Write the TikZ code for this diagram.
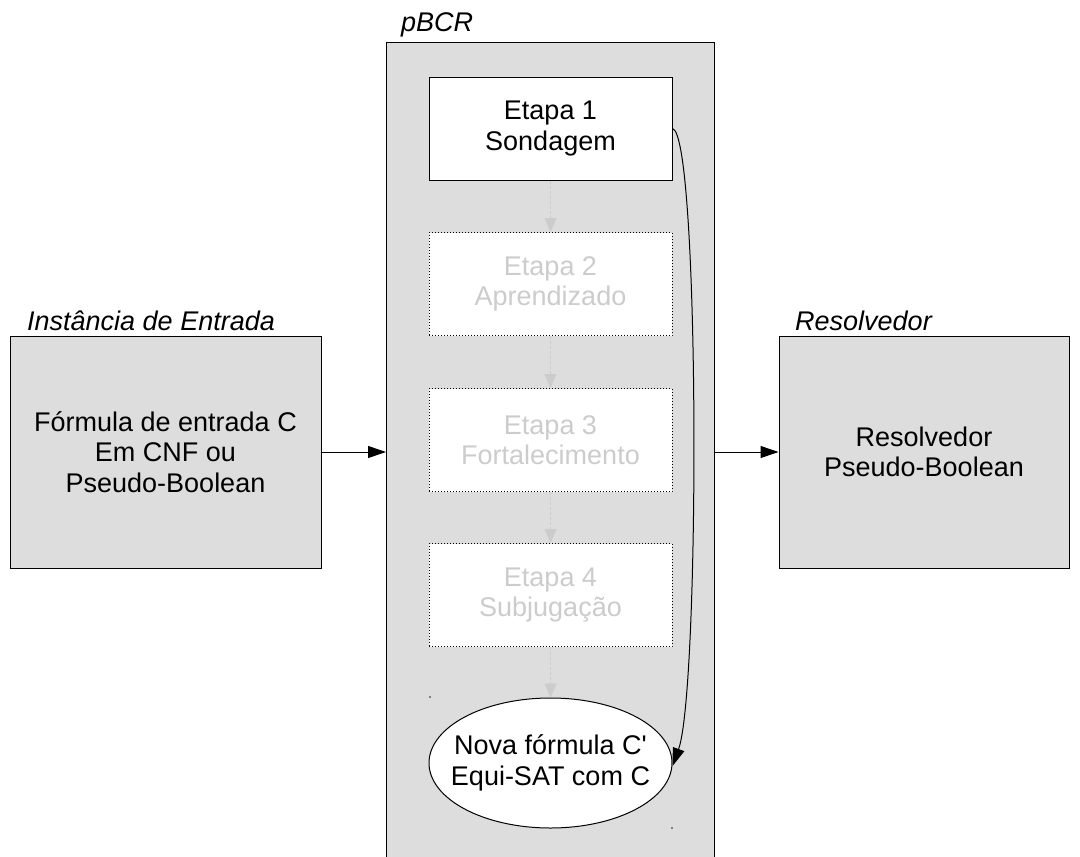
\documentclass[tikz,border=0pt]{standalone}
\usepackage{fontspec}
\setmainfont{Liberation Sans}
% same face without TeX quote ligatures, for a straight apostrophe
\newfontfamily\rawsans{Liberation Sans}
\usetikzlibrary{arrows.meta,shapes.geometric}
\definecolor{panel}{HTML}{DDDDDD}
\definecolor{faded}{HTML}{CCCCCC}
\tikzset{
  txt/.style={font=\fontsize{27}{30.5}\selectfont, align=center, inner sep=0pt},
  label/.style={font=\fontsize{27}{30.5}\selectfont\itshape, anchor=west, inner sep=0pt},
  graybox/.style={txt, draw=black, line width=1pt, fill=panel, minimum width=311pt, minimum height=232pt},
  stagebox/.style={txt, draw=black, line width=1pt, fill=white, minimum width=243pt, minimum height=103pt},
  idlebox/.style={stagebox, dotted, text=faded},
  flow/.style={-{Triangle[length=18pt,width=12pt]}, line width=1pt},
  idleflow/.style={-{Triangle[length=14pt,width=12pt]}, densely dashed, line width=0.8pt, color=faded}
}
\begin{document}
\begin{tikzpicture}[x=1pt,y=-1pt]
\useasboundingbox (0,0) rectangle (1080,857);
\clip (0,0) rectangle (1080,857);
\fill[white] (0,0) rectangle (1080,857);

% central pBCR column
\node[draw=black, line width=1pt, fill=panel, minimum width=328pt, minimum height=840pt, anchor=north west, inner sep=0pt] (col) at (386,42) {};
\node[label] (colname) at (401,25) {pBCR};

% stages
\node[stagebox] (s1) at (550.5,128.5) {Etapa 1\\Sondagem};
\node[idlebox] (s2) at (550.5,284) {Etapa 2\\Aprendizado};
\node[idlebox] (s3) at (550.5,440) {Etapa 3\\Fortalecimento};
\node[idlebox] (s4) at (550.5,595) {Etapa 4\\Subjugação};
\node[ellipse, draw=black, line width=1pt, fill=white, minimum width=243pt, minimum height=130pt, inner sep=0pt] (out) at (550.5,763) {};
\node[txt] (outtext) at (out.center) {Nova fórmula C{\rawsans'}\\Equi-SAT com C};

\draw[idleflow] (s1.south) -- (s2.north);
\draw[idleflow] (s2.south) -- (s3.north);
\draw[idleflow] (s3.south) -- (s4.north);
\draw[idleflow] (s4.south) -- (out.north);

\coordinate (cstart) at (s1.east);
\coordinate (cend) at (out.east);
\draw[flow] (cstart) .. controls (700,135) and (700,690) .. ([yshift=-3pt]cend);

% small marks inside the column
\fill[gray] (429,696) rectangle (431,698);
\fill[gray] (671,827) rectangle (673,829);

% input and solver blocks
\node[graybox] (inp) at (165.5,452) {Fórmula de entrada C\\Em CNF ou\\Pseudo-Boolean};
\node[label] (inpname) at (27,321) {Instância de Entrada};
\node[graybox, minimum width=290pt] (sol) at (924,452) {Resolvedor\\Pseudo-Boolean};
\node[label] (solname) at (795,321) {Resolvedor};

\coordinate (colin) at (386,452);
\coordinate (colout) at (714,452);
\draw[flow] (inp.east) -- (colin);
\draw[flow] (colout) -- (sol.west);
\end{tikzpicture}
\end{document}
